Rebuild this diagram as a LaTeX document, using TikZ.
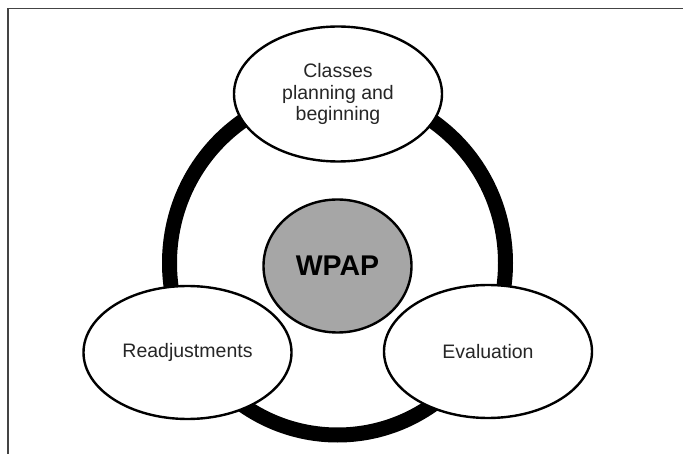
\documentclass[tikz,border=0pt]{standalone}
\usepackage{fontspec}
\setmainfont{Liberation Sans}
\usepackage{tikz}
\usetikzlibrary{shapes,positioning}
\tikzset{
  phase/.style={draw, ellipse, fill=white, line width=2.4pt, inner sep=0pt,
    minimum width=208pt, minimum height=133pt, align=center, text=black!85,
    font=\fontsize{19.5}{21.5}\selectfont},
  core/.style={phase, fill=coregray, minimum width=148pt, minimum height=133pt,
    text=black, font=\fontsize{28.5}{30}\selectfont\bfseries},
  ring/.style={line width=15pt, black},
  frame/.style={draw=framegray, line width=1.4pt},
}

\begin{document}
\begin{tikzpicture}[x=1pt, y=-1pt]
    % Define colors
    \definecolor{coregray}{RGB}{166,166,166}
    \definecolor{framegray}{RGB}{68,68,68}
    \useasboundingbox (0,0) rectangle (683,454);

    % Draw open frame
    \draw[frame] (8,454) -- (8,8.5) -- (683,8.5);

    % Draw cycle ring behind the phases
    \coordinate (hub) at (337.5,263);
    \draw[ring] (hub) ellipse [x radius=168, y radius=172];

    % Draw the three phases
    \node[phase, minimum height=135pt] (plan) at (338,94)
      {Classes\\planning and\\beginning};
    \node[phase] (readj) at (187.5,352.5) {Readjustments};
    \node[phase] (eval) at (488,351.5) {Evaluation};

    % Draw the center
    \node[core] (wpap) at (337.5,266) {WPAP};
\end{tikzpicture}
\end{document}
